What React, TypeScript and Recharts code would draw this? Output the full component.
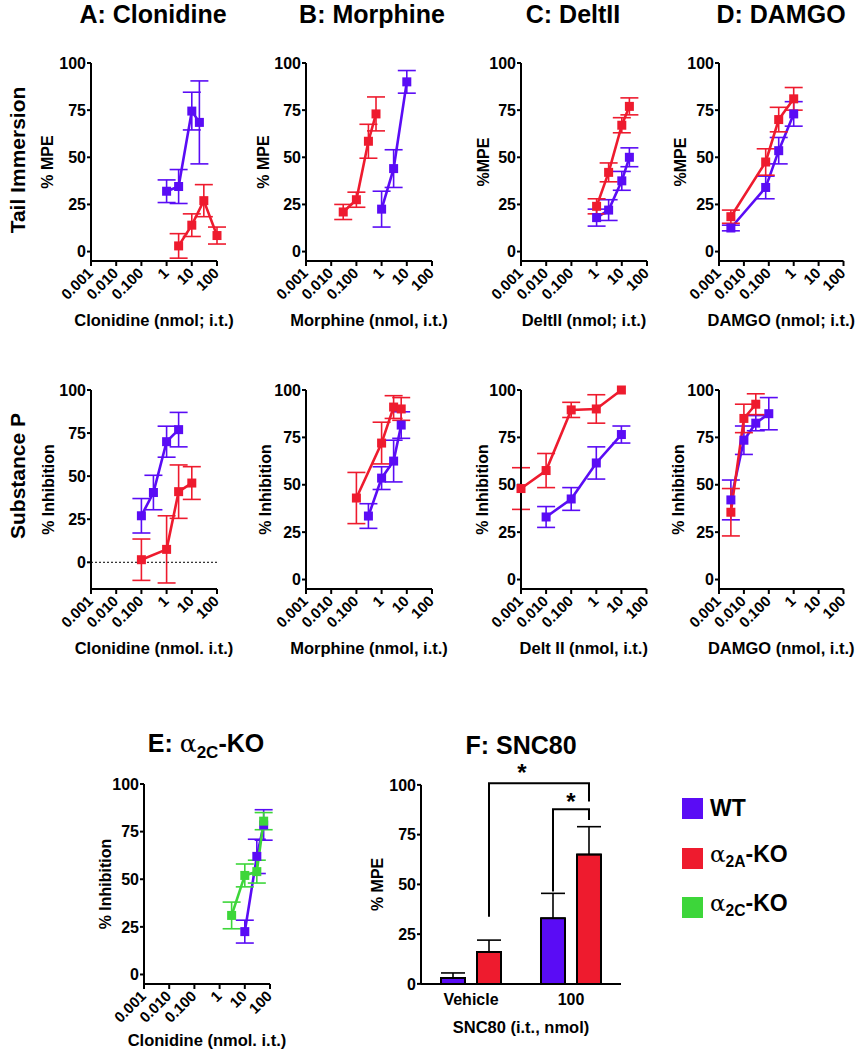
import React from "react";
import {
  LineChart,
  Line,
  XAxis,
  YAxis,
  ErrorBar,
  ReferenceLine,
  ComposedChart,
  Bar,
  Label,
} from "recharts";

const BLUE = "#5a0cf5";
const RED = "#ee1b2e";
const GREEN = "#3dd63a";
const FONT = "'Liberation Sans', Arial, sans-serif";

type Pt = { dose: number; mean: number; sem: number };

// tick values / labels
const logTicks = [0.001, 0.01, 0.1, 1, 10, 100];
const logTickLabels = ["0.001", "0.010", "0.100", "1", "10", "100"];
const pctTicks = [0, 25, 50, 75, 100];

// tail immersion (row 1)
const tiClonidineWT: Pt[] = [
  { dose: 1, mean: 32, sem: 6 },
  { dose: 3, mean: 34.5, sem: 9 },
  { dose: 10, mean: 74.5, sem: 10 },
  { dose: 20, mean: 68.5, sem: 22 },
];
const tiClonidineKO: Pt[] = [
  { dose: 3, mean: 3, sem: 6.5 },
  { dose: 10, mean: 14, sem: 6 },
  { dose: 30, mean: 27, sem: 8.5 },
  { dose: 100, mean: 8.5, sem: 4.5 },
];
const tiMorphineWT: Pt[] = [
  { dose: 1, mean: 22.5, sem: 9.5 },
  { dose: 3, mean: 44, sem: 10 },
  { dose: 10, mean: 90, sem: 6 },
];
const tiMorphineKO: Pt[] = [
  { dose: 0.03, mean: 21, sem: 4 },
  { dose: 0.1, mean: 27.5, sem: 4 },
  { dose: 0.3, mean: 58.5, sem: 9 },
  { dose: 0.6, mean: 73, sem: 9 },
];
const tiDeltWT: Pt[] = [
  { dose: 1, mean: 18, sem: 4.5 },
  { dose: 3, mean: 22, sem: 5.5 },
  { dose: 10, mean: 37.5, sem: 5 },
  { dose: 20, mean: 50, sem: 5 },
];
const tiDeltKO: Pt[] = [
  { dose: 1, mean: 24, sem: 4 },
  { dose: 3, mean: 42, sem: 5 },
  { dose: 10, mean: 67, sem: 4 },
  { dose: 20, mean: 77, sem: 4.5 },
];
const tiDamgoWT: Pt[] = [
  { dose: 0.003, mean: 12.5, sem: 1.5 },
  { dose: 0.075, mean: 34, sem: 6 },
  { dose: 0.25, mean: 53.5, sem: 7 },
  { dose: 1, mean: 73, sem: 6.5 },
];
const tiDamgoKO: Pt[] = [
  { dose: 0.003, mean: 18.5, sem: 3.5 },
  { dose: 0.075, mean: 47.5, sem: 7 },
  { dose: 0.25, mean: 70, sem: 6.5 },
  { dose: 1, mean: 81, sem: 6 },
];

// substance P (row 2)
const spClonidineWT: Pt[] = [
  { dose: 0.1, mean: 27, sem: 10 },
  { dose: 0.3, mean: 40.5, sem: 10 },
  { dose: 1, mean: 70, sem: 9 },
  { dose: 3, mean: 77, sem: 10 },
];
const spClonidineKO: Pt[] = [
  { dose: 0.1, mean: 1.5, sem: 12 },
  { dose: 1, mean: 7.5, sem: 19.5 },
  { dose: 3, mean: 41, sem: 15.5 },
  { dose: 10, mean: 46, sem: 9.5 },
];
const spMorphineWT: Pt[] = [
  { dose: 0.3, mean: 33.5, sem: 6.5 },
  { dose: 1, mean: 53.5, sem: 6 },
  { dose: 3, mean: 62.5, sem: 11 },
  { dose: 6, mean: 81.5, sem: 7 },
];
const spMorphineKO: Pt[] = [
  { dose: 0.1, mean: 43, sem: 13.5 },
  { dose: 1, mean: 72, sem: 11 },
  { dose: 3, mean: 91, sem: 6 },
  { dose: 6, mean: 90, sem: 6 },
];
const spDeltWT: Pt[] = [
  { dose: 0.01, mean: 33, sem: 5.5 },
  { dose: 0.1, mean: 42.5, sem: 6 },
  { dose: 1, mean: 61.5, sem: 8.5 },
  { dose: 10, mean: 76.5, sem: 4.5 },
];
const spDeltKO: Pt[] = [
  { dose: 0.001, mean: 48, sem: 11 },
  { dose: 0.01, mean: 57.5, sem: 9 },
  { dose: 0.1, mean: 89.5, sem: 4 },
  { dose: 1, mean: 90, sem: 7.5 },
  { dose: 10, mean: 100, sem: 0 },
];
const spDamgoWT: Pt[] = [
  { dose: 0.003, mean: 42, sem: 10.5 },
  { dose: 0.01, mean: 73.5, sem: 7.5 },
  { dose: 0.03, mean: 82.5, sem: 4 },
  { dose: 0.1, mean: 87.5, sem: 8.5 },
];
const spDamgoKO: Pt[] = [
  { dose: 0.003, mean: 35.5, sem: 12.5 },
  { dose: 0.01, mean: 85, sem: 7.5 },
  { dose: 0.03, mean: 92.5, sem: 5.5 },
];

// E: alpha2C-KO, clonidine substance P
const e2cWT: Pt[] = [
  { dose: 10, mean: 22.5, sem: 6 },
  { dose: 30, mean: 62, sem: 9 },
  { dose: 56, mean: 78.5, sem: 8 },
];
const e2cKO: Pt[] = [
  { dose: 3, mean: 31, sem: 7 },
  { dose: 10, mean: 52, sem: 6 },
  { dose: 30, mean: 54, sem: 6 },
  { dose: 56, mean: 80.5, sem: 4.5 },
];

// F: SNC80 bars
const sncGroups = ["Vehicle", "100"];
const sncWT = [3, 33];
const sncWTErr = [2.5, 12.5];
const sncKO = [16, 65];
const sncKOErr = [6, 14];
// significance brackets, x in group slots (0..2), y in %MPE
const sigBrackets = [
  [
    { x: 0.68, y: 33.8 },
    { x: 0.68, y: 100.8 },
    { x: 1.68, y: 100.8 },
    { x: 1.68, y: 91.6 },
  ],
  [
    { x: 1.32, y: 46.4 },
    { x: 1.32, y: 87.8 },
    { x: 1.68, y: 87.8 },
    { x: 1.68, y: 82.4 },
  ],
];
const sigStars = [
  { x: 1.01, y: 102 },
  { x: 1.5, y: 87.5 },
];

const legendItems = [
  { color: BLUE, name: "WT", sub: "" },
  { color: RED, name: "-KO", sub: "2A" },
  { color: GREEN, name: "-KO", sub: "2C" },
];

const ML = 70;
const MT = 10;
const MR = 45;
const XH = 80;

const axisStyle = { stroke: "#000", strokeWidth: 2 };
const tickFont = { fill: "#000", fontSize: 16, fontWeight: 700, fontFamily: FONT };

const LogTick = (props: any) => {
  const { x, y, payload } = props;
  const i = logTicks.indexOf(payload.value);
  const tx = x + 3;
  const ty = y + 8;
  return (
    <text
      x={tx}
      y={ty}
      transform={`rotate(-45 ${tx} ${ty})`}
      textAnchor="end"
      fill="#000"
      fontSize={15}
      fontWeight={700}
      fontFamily={FONT}
    >
      {logTickLabels[i]}
    </text>
  );
};

const SquareDot = (props: any) => {
  const { cx, cy, stroke, index } = props;
  if (cx == null || cy == null) return null;
  return <rect key={index} x={cx - 4.5} y={cy - 4.5} width={9} height={9} fill={stroke} />;
};

const StarDot = (props: any) => {
  const { cx, cy, index } = props;
  if (cx == null || cy == null) return null;
  return (
    <text key={index} x={cx} y={cy} textAnchor="middle" fill="#000" fontSize={24} fontWeight={700} fontFamily={FONT}>
      *
    </text>
  );
};

type Series = { data: Pt[]; color: string };

type PanelProps = {
  left: number;
  top: number;
  plotW: number;
  plotH: number;
  yMin: number;
  yLabel: string;
  yLabelGap: number;
  xLabel: string;
  xLabelGap?: number;
  series: Series[];
  zeroLine?: boolean;
};

const DosePanel = (p: PanelProps) => (
  <div style={{ position: "absolute", left: p.left - ML, top: p.top - MT }}>
    <LineChart
      width={p.plotW + ML + MR}
      height={p.plotH + MT + XH}
      margin={{ top: MT, right: MR, bottom: 0, left: 0 }}
    >
      <XAxis
        type="number"
        dataKey="dose"
        scale="log"
        domain={[0.001, 100]}
        ticks={logTicks}
        interval={0}
        height={XH}
        axisLine={axisStyle}
        tickLine={axisStyle}
        tickSize={5}
        tickMargin={0}
        tick={<LogTick />}
      >
        <Label
          value={p.xLabel}
          position="insideTop"
          offset={p.xLabelGap ?? 53}
          style={{ ...tickFont, fontSize: 16.5 }}
        />
      </XAxis>
      <YAxis
        type="number"
        domain={[p.yMin, 100]}
        ticks={pctTicks}
        interval={0}
        width={ML}
        axisLine={axisStyle}
        tickLine={axisStyle}
        tickSize={4}
        tickMargin={1}
        tick={tickFont}
      >
        <Label
          value={p.yLabel}
          angle={-90}
          position="insideLeft"
          offset={ML - p.yLabelGap}
          style={{ ...tickFont, textAnchor: "middle" }}
        />
      </YAxis>
      {p.zeroLine && (
        <ReferenceLine y={0} stroke="#000" strokeWidth={1} strokeDasharray="2 2" />
      )}
      {p.series.map((s, i) => (
        <Line
          key={i}
          data={s.data}
          dataKey="mean"
          stroke={s.color}
          strokeWidth={2.6}
          dot={<SquareDot />}
          activeDot={false}
          isAnimationActive={false}
        >
          <ErrorBar dataKey="sem" direction="y" width={9} stroke={s.color} strokeWidth={1.6} />
        </Line>
      ))}
    </LineChart>
  </div>
);

const BAR = 24;
const BAR_GAP = 12;
// F keeps some headroom above 100 for the significance brackets
const SNC_YMAX = 110;

const SncYTitle = (props: any) => {
  const { viewBox } = props;
  const { x, y, width, height } = viewBox;
  const cx = x + width - 43;
  const cy = y + height * (1 - 50 / SNC_YMAX);
  return (
    <text
      x={cx}
      y={cy}
      transform={`rotate(-90 ${cx} ${cy})`}
      textAnchor="middle"
      dominantBaseline="central"
      {...tickFont}
    >
      % MPE
    </text>
  );
};

const SncPanel = () => {
  const plotW = 200;
  const left = 420.7;
  const zeroY = 984;
  const hundredY = 785;
  const pxPerUnit = (zeroY - hundredY) / 100;
  const plotTop = hundredY - (SNC_YMAX - 100) * pxPerUnit;
  const plotH = zeroY - plotTop;
  const mt = 10;
  const rows = sncGroups.map((g, i) => ({
    group: g,
    wt: sncWT[i],
    wtErr: [0, sncWTErr[i]],
    ko: sncKO[i],
    koErr: [0, sncKOErr[i]],
  }));
  return (
    <div style={{ position: "absolute", left: left - ML, top: plotTop - mt }}>
      <ComposedChart
        width={plotW + ML + MR}
        height={plotH + mt + XH}
        data={rows}
        margin={{ top: mt, right: MR, bottom: 0, left: 0 }}
        barSize={BAR}
        barGap={BAR_GAP}
      >
        <XAxis
          dataKey="group"
          height={XH}
          axisLine={axisStyle}
          tickLine={false}
          tickMargin={4}
          tick={tickFont}
        >
          <Label
            value="SNC80 (i.t., nmol)"
            position="insideTop"
            offset={37}
            style={{ ...tickFont, fontSize: 16.5 }}
          />
        </XAxis>
        <XAxis xAxisId="n" type="number" dataKey="x" domain={[0, 2]} hide />
        <YAxis
          type="number"
          domain={[0, SNC_YMAX]}
          ticks={pctTicks}
          interval={0}
          width={ML}
          axisLine={false}
          tickLine={axisStyle}
          tickSize={4}
          tickMargin={1}
          tick={tickFont}
        >
          <Label content={<SncYTitle />} />
        </YAxis>
        <ReferenceLine
          xAxisId="n"
          segment={[
            { x: 0, y: 0 },
            { x: 0, y: 100 },
          ]}
          stroke="#000"
          strokeWidth={2}
        />
        <Bar dataKey="wt" fill={BLUE} stroke="#000" strokeWidth={2} isAnimationActive={false}>
          <ErrorBar dataKey="wtErr" direction="y" width={12} stroke="#000" strokeWidth={1.6} />
        </Bar>
        <Bar dataKey="ko" fill={RED} stroke="#000" strokeWidth={2} isAnimationActive={false}>
          <ErrorBar dataKey="koErr" direction="y" width={12} stroke="#000" strokeWidth={1.6} />
        </Bar>
        {sigBrackets.map((b, bi) => (
          <Line
            key={`br${bi}`}
            xAxisId="n"
            data={b}
            dataKey="y"
            type="linear"
            stroke="#000"
            strokeWidth={2}
            dot={false}
            activeDot={false}
            isAnimationActive={false}
          />
        ))}
        <Line
          xAxisId="n"
          data={sigStars}
          dataKey="y"
          stroke="none"
          dot={<StarDot />}
          activeDot={false}
          isAnimationActive={false}
        />
      </ComposedChart>
    </div>
  );
};

const titleStyle: React.CSSProperties = {
  position: "absolute",
  transform: "translate(-50%, -50%)",
  whiteSpace: "nowrap",
  fontFamily: "'Liberation Sans Narrow', 'Liberation Sans', Arial, sans-serif",
  fontWeight: 700,
  fontSize: 25,
  color: "#000",
};

const rowLabelStyle: React.CSSProperties = {
  position: "absolute",
  transform: "translate(-50%, -50%) rotate(-90deg)",
  whiteSpace: "nowrap",
  fontFamily: FONT,
  fontWeight: 700,
  fontSize: 21,
  color: "#000",
};

const Alpha = ({ sub }: { sub: string }) => (
  <span>
    <span style={{ fontFamily: "'DejaVu Serif', serif", fontWeight: 400 }}>α</span>
    <sub style={{ fontSize: "0.68em", verticalAlign: "-0.35em" }}>{sub}</sub>
  </span>
);

const App = () => {
  const row1Top = 63;
  const row2Top = 390;
  const pw = 126;
  return (
    <div
      style={{
        position: "absolute",
        left: 0,
        top: 0,
        width: 857,
        height: 1050,
        background: "#fff",
        overflow: "hidden",
      }}
    >
      <div style={{ ...titleStyle, left: 153, top: 14 }}>A: Clonidine</div>
      <div style={{ ...titleStyle, left: 372, top: 14 }}>B: Morphine</div>
      <div style={{ ...titleStyle, left: 573, top: 14 }}>C: DeltII</div>
      <div style={{ ...titleStyle, left: 781, top: 14 }}>D: DAMGO</div>

      <div style={{ ...rowLabelStyle, left: 18, top: 160 }}>Tail Immersion</div>
      <div style={{ ...rowLabelStyle, left: 18, top: 476 }}>Substance P</div>

      <DosePanel left={91} top={row1Top} plotW={pw} plotH={198} yMin={-5} yLabel="% MPE" yLabelGap={44}
        xLabel="Clonidine (nmol; i.t.)" series={[{ data: tiClonidineWT, color: BLUE }, { data: tiClonidineKO, color: RED }]} />
      <DosePanel left={306} top={row1Top} plotW={pw} plotH={198} yMin={-5} yLabel="% MPE" yLabelGap={43}
        xLabel="Morphine (nmol, i.t.)" series={[{ data: tiMorphineWT, color: BLUE }, { data: tiMorphineKO, color: RED }]} />
      <DosePanel left={521} top={row1Top} plotW={pw} plotH={198} yMin={-5} yLabel="%MPE" yLabelGap={38}
        xLabel="DeltII (nmol; i.t.)" series={[{ data: tiDeltWT, color: BLUE }, { data: tiDeltKO, color: RED }]} />
      <DosePanel left={719} top={row1Top} plotW={124.5} plotH={198} yMin={-5} yLabel="%MPE" yLabelGap={39}
        xLabel="DAMGO (nmol; i.t.)" series={[{ data: tiDamgoWT, color: BLUE }, { data: tiDamgoKO, color: RED }]} />

      <DosePanel left={91} top={row2Top} plotW={pw} plotH={199} yMin={-15.5} yLabel="% Inhibition" yLabelGap={43}
        xLabel="Clonidine (nmol. i.t.)" zeroLine series={[{ data: spClonidineWT, color: BLUE }, { data: spClonidineKO, color: RED }]} />
      <DosePanel left={306} top={row2Top} plotW={pw} plotH={199} yMin={-5} yLabel="% Inhibition" yLabelGap={41}
        xLabel="Morphine (nmol, i.t.)" series={[{ data: spMorphineWT, color: BLUE }, { data: spMorphineKO, color: RED }]} />
      <DosePanel left={521} top={row2Top} plotW={125.5} plotH={199} yMin={-5} yLabel="% Inhibition" yLabelGap={39}
        xLabel="Delt II (nmol, i.t.)" series={[{ data: spDeltWT, color: BLUE }, { data: spDeltKO, color: RED }]} />
      <DosePanel left={719} top={row2Top} plotW={124.5} plotH={199} yMin={-5} yLabel="% Inhibition" yLabelGap={41}
        xLabel="DAMGO (nmol, i.t.)" series={[{ data: spDamgoWT, color: BLUE }, { data: spDamgoKO, color: RED }]} />

      <div style={{ ...titleStyle, left: 206, top: 746 }}>
        E: <Alpha sub="2C" />-KO
      </div>
      <div style={{ ...titleStyle, left: 521, top: 745 }}>F: SNC80</div>

      <DosePanel left={144.3} top={784.3} plotW={126} plotH={200} yMin={-5} yLabel="% Inhibition" yLabelGap={39}
        xLabel="Clonidine (nmol. i.t.)" xLabelGap={50} series={[{ data: e2cWT, color: BLUE }, { data: e2cKO, color: GREEN }]} />

      <SncPanel />

      <div style={{ position: "absolute", left: 682, top: 798, fontFamily: FONT }}>
        {legendItems.map((it, i) => (
          <div key={i} style={{ display: "flex", alignItems: "center", height: 21, marginBottom: 28.5 }}>
            <div style={{ width: 21, height: 21, background: it.color }} />
            <div style={{ marginLeft: 7, fontSize: 23, fontWeight: 700, color: "#000", lineHeight: "21px", whiteSpace: "nowrap" }}>
              {it.sub ? <Alpha sub={it.sub} /> : null}
              {it.name}
            </div>
          </div>
        ))}
      </div>
    </div>
  );
};

export default App;
